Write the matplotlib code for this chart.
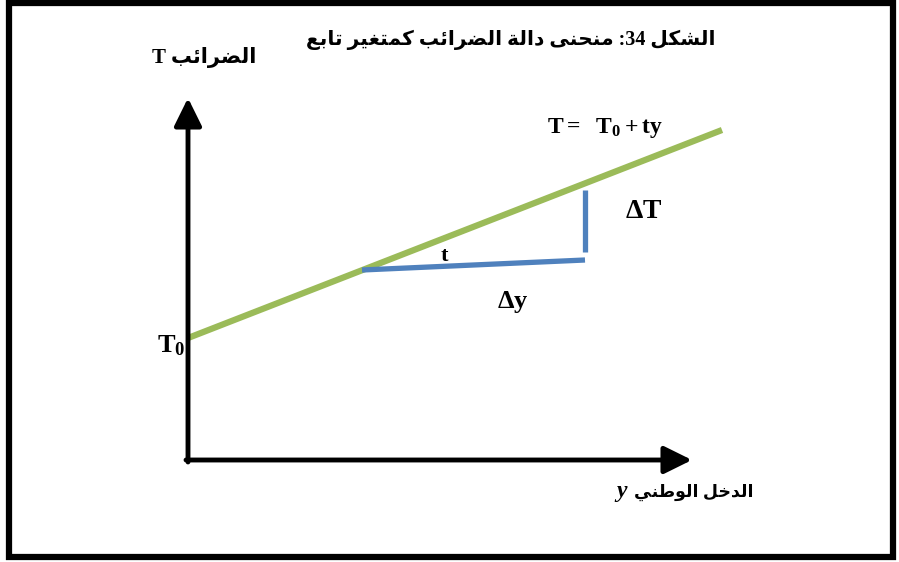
import matplotlib
matplotlib.use("Agg")
import matplotlib.pyplot as plt
from matplotlib.patches import Rectangle

# data (units: income y on x axis, tax T on vertical axis)
line_y = [0, 534]
line_T = [122, 330]
run_y = [174, 397]
run_T = [190, 200]
rise_y = [397, 397]
rise_T = [208, 270]
axis_end_y = 504
axis_end_T = 362

title_text = "الشكل 34: منحنى دالة الضرائب كمتغير تابع"
ylabel_text = "الضرائب T"
xlabel_text = "الدخل الوطني"
xlabel_var = "y"

# arabic presentation forms: isolated, final, initial, medial
FORMS = {
    "ا": ("\uFE8D", "\uFE8E", None, None),
    "ب": ("\uFE8F", "\uFE90", "\uFE91", "\uFE92"),
    "ة": ("\uFE93", "\uFE94", None, None),
    "ت": ("\uFE95", "\uFE96", "\uFE97", "\uFE98"),
    "ح": ("\uFEA1", "\uFEA2", "\uFEA3", "\uFEA4"),
    "خ": ("\uFEA5", "\uFEA6", "\uFEA7", "\uFEA8"),
    "د": ("\uFEA9", "\uFEAA", None, None),
    "ر": ("\uFEAD", "\uFEAE", None, None),
    "ش": ("\uFEB5", "\uFEB6", "\uFEB7", "\uFEB8"),
    "ض": ("\uFEBD", "\uFEBE", "\uFEBF", "\uFEC0"),
    "ط": ("\uFEC1", "\uFEC2", "\uFEC3", "\uFEC4"),
    "ع": ("\uFEC9", "\uFECA", "\uFECB", "\uFECC"),
    "غ": ("\uFECD", "\uFECE", "\uFECF", "\uFED0"),
    "ك": ("\uFED9", "\uFEDA", "\uFEDB", "\uFEDC"),
    "ل": ("\uFEDD", "\uFEDE", "\uFEDF", "\uFEE0"),
    "م": ("\uFEE1", "\uFEE2", "\uFEE3", "\uFEE4"),
    "ن": ("\uFEE5", "\uFEE6", "\uFEE7", "\uFEE8"),
    "و": ("\uFEED", "\uFEEE", None, None),
    "ى": ("\uFEEF", "\uFEF0", None, None),
    "ي": ("\uFEF1", "\uFEF2", "\uFEF3", "\uFEF4"),
    "ئ": ("\uFE89", "\uFE8A", "\uFE8B", "\uFE8C"),
}


def dual(c):
    return c in FORMS and FORMS[c][2] is not None


def shape_word(word):
    out = []
    for i, c in enumerate(word):
        if c not in FORMS:
            out.append(c)
            continue
        prev = word[i - 1] if i > 0 else ""
        nxt = word[i + 1] if i + 1 < len(word) else ""
        jp = dual(prev)
        jn = dual(c) and nxt in FORMS
        iso, fin, ini, med = FORMS[c]
        if jp and jn:
            out.append(med)
        elif jp:
            out.append(fin)
        elif jn:
            out.append(ini)
        else:
            out.append(iso)
    return "".join(reversed(out))


def rtl(text):
    words = []
    for w in text.split(" "):
        if any(c in FORMS for c in w):
            words.append(shape_word(w))
        elif w.endswith(":"):
            words.append(":" + w[:-1])
        else:
            words.append(w)
    return " ".join(reversed(words))


plt.rcParams["mathtext.fontset"] = "custom"
plt.rcParams["mathtext.bf"] = "Liberation Serif:bold"
plt.rcParams["mathtext.rm"] = "Liberation Serif:bold"
plt.rcParams["mathtext.it"] = "Liberation Serif:bold:italic"
fams = ["Liberation Serif", "DejaVu Sans"]

fig = plt.figure(figsize=(8.99, 5.62), dpi=100)
ax = fig.add_axes([0, 0, 1, 1])
ax.set_xlim(-188, 711)
ax.set_ylim(-102, 460)
ax.axis("off")

# outer frame
fig.patches.append(Rectangle((9 / 899, 5.5 / 562), 884 / 899, 553.5 / 562, transform=fig.transFigure,
                             fill=False, edgecolor="black", linewidth=4.5))

# axes arrows
arrow = dict(arrowstyle="-|>,head_length=0.85,head_width=0.42", lw=3.5, color="black",
             shrinkA=0, shrinkB=0, mutation_scale=20)
ax.annotate("", xy=(axis_end_y, 0), xytext=(-2, 0), arrowprops=arrow)
ax.annotate("", xy=(0, axis_end_T), xytext=(0, -2), arrowprops=arrow)

# tax function and slope triangle
ax.plot(line_y, line_T, color="#9BBB59", lw=4.5, solid_capstyle="butt")
ax.plot(run_y, run_T, color="#4F81BD", lw=3.8, solid_capstyle="butt")
ax.plot(rise_y, rise_T, color="#4F81BD", lw=3.8, solid_capstyle="butt")

ax.text(257, 205, r"$\mathbf{t}$", fontsize=16, ha="center", va="center")
ax.text(456, 250, r"$\mathbf{\Delta T}$", fontsize=20, ha="center", va="center")
ax.text(325, 158, r"$\mathbf{\Delta y}$", fontsize=19, ha="center", va="center")
ax.text(417, 332, r"$\mathbf{T =\ \ T_0 + ty}$", fontsize=17, ha="center", va="center")
ax.text(-3, 115, r"$\mathbf{T_0}$", fontsize=19, ha="right", va="center")

ax.text(323, 420, rtl(title_text), fontsize=14.5, fontweight="bold", family=fams,
        ha="center", va="center")
ax.text(16, 403, rtl(ylabel_text), fontsize=15, fontweight="bold", family=fams,
        ha="center", va="center")
ax.text(506, -32, rtl(xlabel_text), fontsize=12.5, fontweight="bold", family=fams,
        ha="center", va="center")
ax.text(434, -32, xlabel_var, fontsize=17, fontweight="bold", style="italic",
        family="Liberation Serif", ha="center", va="center")

fig.savefig("out.png", dpi=100)
